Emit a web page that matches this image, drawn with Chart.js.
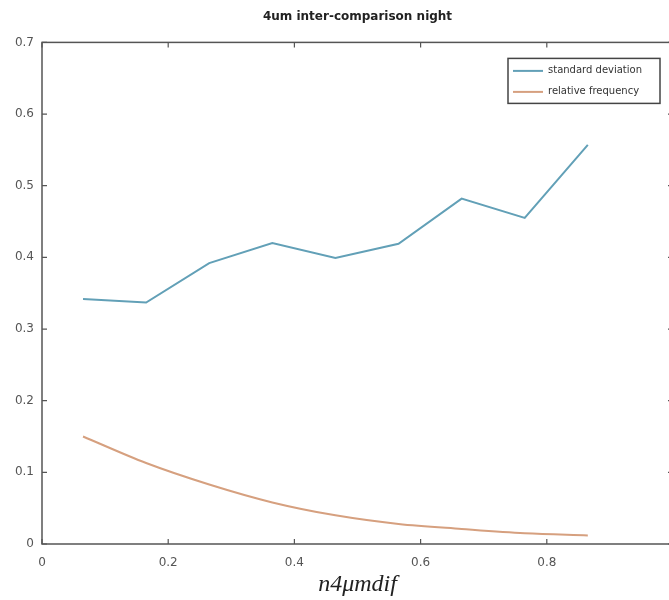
<!DOCTYPE html>
<html lang="en">

<head>
    <meta charset="UTF-8">
    <title>4um inter-comparison night</title>
    <style>
        html, body { margin: 0; padding: 0; background: #fff; overflow: hidden; }
        #wrap { width: 700px; height: 600px; }
    </style>
</head>

<body>
    <div id="wrap">
        <canvas id="chart" width="700" height="600"></canvas>
    </div>

    <script src="https://cdn.jsdelivr.net/npm/chart.js"></script>

    <script>
        // values
        const xValues = [0.065, 0.165, 0.265, 0.365, 0.465, 0.565, 0.665, 0.765, 0.865];
        const stdDev = [0.342, 0.337, 0.392, 0.420, 0.399, 0.419, 0.482, 0.455, 0.557];
        const relFreq = [0.150, 0.113, 0.083, 0.058, 0.040, 0.028, 0.021, 0.015, 0.012];
        const seriesNames = ['standard deviation', 'relative frequency'];
        const xTicks = [0, 0.2, 0.4, 0.6, 0.8, 1];
        const yTicks = [0, 0.1, 0.2, 0.3, 0.4, 0.5, 0.6, 0.7];

        const blue = '#62a0b7';
        const orange = '#d6a07f';
        const axisColor = '#555';

        // box around the plot + inward tick marks (matlab style)
        const boxPlugin = {
            id: 'box',
            afterDraw(chart) {
                const { ctx, chartArea: a, scales } = chart;
                const len = 5;
                ctx.save();
                ctx.strokeStyle = axisColor;
                ctx.lineWidth = 1.5;
                ctx.strokeRect(a.left, a.top, a.right - a.left, a.bottom - a.top);
                ctx.lineWidth = 1.2;
                ctx.beginPath();
                xTicks.forEach(v => {
                    const px = scales.x.getPixelForValue(v);
                    ctx.moveTo(px, a.bottom); ctx.lineTo(px, a.bottom - len);
                    ctx.moveTo(px, a.top); ctx.lineTo(px, a.top + len);
                });
                yTicks.forEach(v => {
                    const py = scales.y.getPixelForValue(v);
                    ctx.moveTo(a.left, py); ctx.lineTo(a.left + len, py);
                    ctx.moveTo(a.right, py); ctx.lineTo(a.right - len, py);
                });
                ctx.stroke();
                ctx.restore();
            }
        };

        // legend box in the top right of the plot
        const legendPlugin = {
            id: 'boxLegend',
            afterDraw(chart) {
                const { ctx, chartArea: a } = chart;
                const bx = a.left + 466, by = a.top + 16, bw = 152, bh = 45;
                ctx.save();
                ctx.fillStyle = '#fff';
                ctx.fillRect(bx, by, bw, bh);
                ctx.strokeStyle = '#444';
                ctx.lineWidth = 1.5;
                ctx.strokeRect(bx, by, bw, bh);
                ctx.font = '10px "DejaVu Sans"';
                ctx.textBaseline = 'middle';
                chart.data.datasets.forEach((ds, i) => {
                    const y = by + 12.5 + i * 21;
                    ctx.strokeStyle = ds.borderColor;
                    ctx.lineWidth = 2;
                    ctx.beginPath();
                    ctx.moveTo(bx + 5, y);
                    ctx.lineTo(bx + 35, y);
                    ctx.stroke();
                    ctx.fillStyle = '#333';
                    ctx.fillText(ds.label, bx + 40, y);
                });
                ctx.restore();
            }
        };

        const ctx = document.getElementById('chart').getContext('2d');
        new Chart(ctx, {
            type: 'line',
            data: {
                datasets: [{
                    label: seriesNames[0],
                    data: xValues.map((x, i) => ({ x: x, y: stdDev[i] })),
                    borderColor: blue,
                    borderWidth: 2,
                    pointRadius: 0,
                    tension: 0
                }, {
                    label: seriesNames[1],
                    data: xValues.map((x, i) => ({ x: x, y: relFreq[i] })),
                    borderColor: orange,
                    borderWidth: 2,
                    pointRadius: 0,
                    cubicInterpolationMode: 'monotone'
                }]
            },
            options: {
                responsive: false,
                animation: false,
                devicePixelRatio: 1,
                layout: { padding: { top: 0, right: 27, bottom: 0, left: 0 } },
                scales: {
                    x: {
                        type: 'linear',
                        min: 0,
                        max: 1,
                        afterFit: s => { s.height = 56; },
                        afterBuildTicks: s => { s.ticks = xTicks.map(v => ({ value: v })); },
                        grid: { display: false, drawTicks: false },
                        border: { display: false },
                        ticks: {
                            padding: 12,
                            color: '#555',
                            font: { family: 'DejaVu Sans', size: 12 },
                            maxRotation: 0,
                            // the "1" label sits past the right edge of the picture
                            callback: v => (v >= 1 ? '' : String(v))
                        },
                        title: {
                            display: true,
                            text: 'n4μmdif',
                            color: '#222',
                            font: { family: 'Liberation Serif', style: 'italic', size: 24 },
                            padding: { top: 0, bottom: 1 }
                        }
                    },
                    y: {
                        min: 0,
                        max: 0.7,
                        afterFit: s => { s.width = 42; },
                        afterBuildTicks: s => { s.ticks = yTicks.map(v => ({ value: v })); },
                        grid: { display: false, drawTicks: false },
                        border: { display: false },
                        ticks: {
                            padding: 8,
                            color: '#555',
                            font: { family: 'DejaVu Sans', size: 12 }
                        }
                    }
                },
                plugins: {
                    legend: { display: false },
                    tooltip: { enabled: false },
                    title: {
                        display: true,
                        fullSize: false,
                        text: '4um inter-comparison night',
                        color: '#222',
                        font: { family: 'DejaVu Sans', size: 12, weight: 'bold' },
                        padding: { top: 10, bottom: 18 }
                    }
                }
            },
            plugins: [boxPlugin, legendPlugin]
        });
    </script>
</body>

</html>
